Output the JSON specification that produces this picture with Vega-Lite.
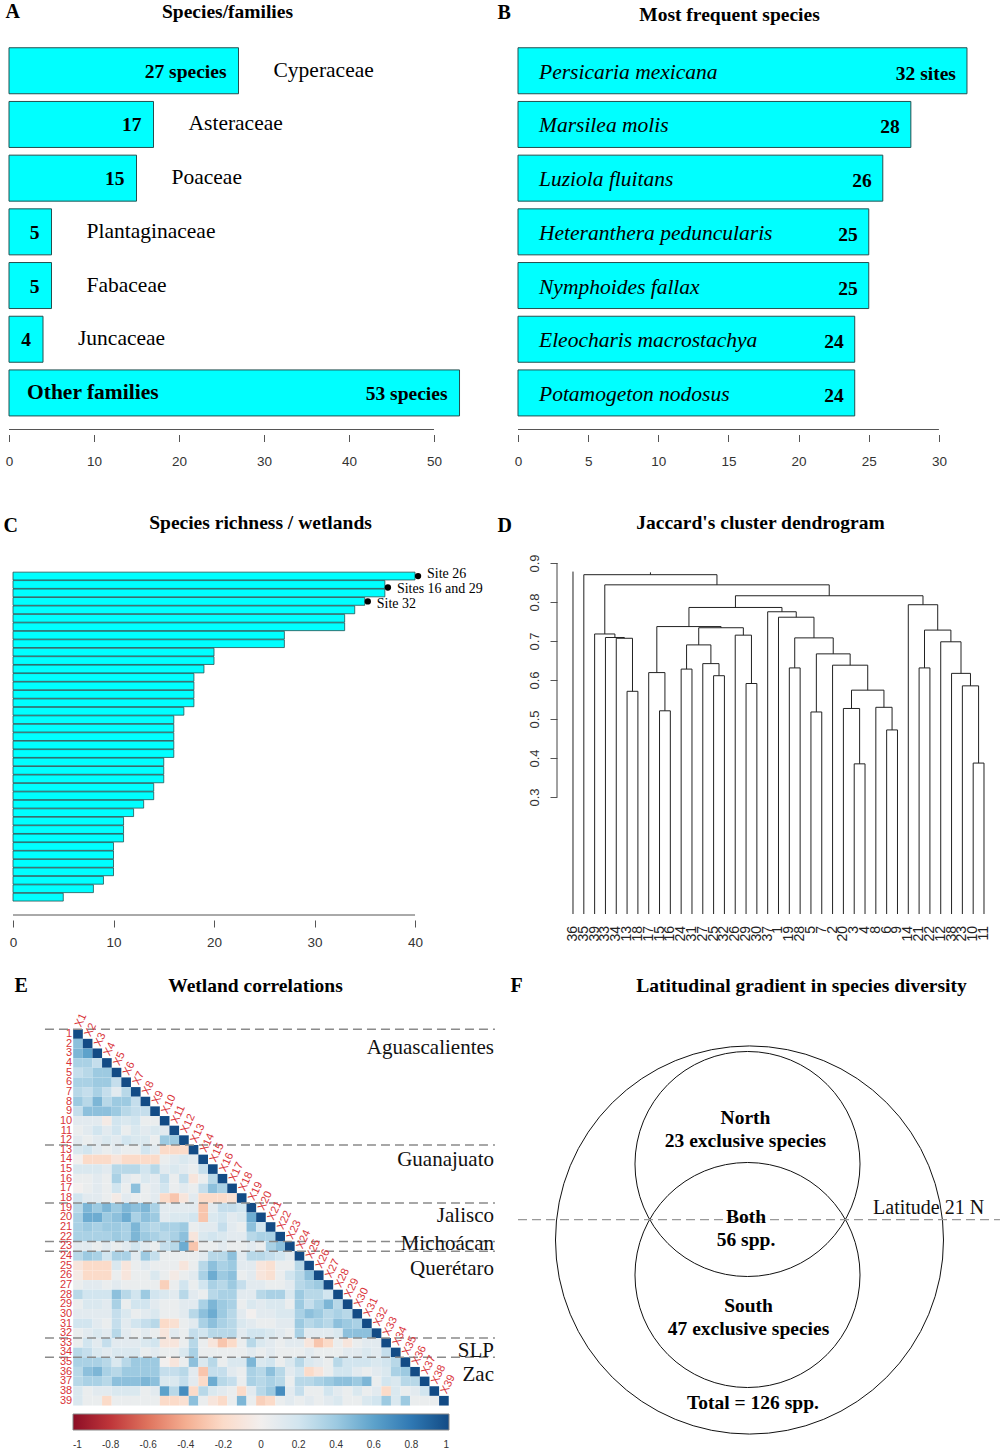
{
"$schema":"https://vega.github.io/schema/vega-lite/v6.json",
"background":"white",
"padding":{"left":3,"top":1,"right":0,"bottom":0},
"columns":2,
"spacing":{"row":100,"column":9},
"bounds":"flush",
"align":"each",
"resolve":{"scale":{"x":"independent","y":"independent","color":"independent","size":"independent"}},
"config":{"view":{"stroke":null},"font":"Liberation Serif",
 "axis":{"grid":false,"domain":false,"labelFont":"Liberation Sans","labelFontSize":13.5,"labelColor":"#333","tickColor":"#555","tickWidth":1,"titleFont":"Liberation Serif","titleFontWeight":"bold","titleColor":"#000","titleAngle":0,"titleBaseline":"middle","titleAlign":"center","labelFlush":false,"labelOverlap":false}},
"datasets":{
 "famA":[{"rank":1,"family":"Cyperaceae","n":27,"inlabel":"27 species"},{"rank":2,"family":"Asteraceae","n":17,"inlabel":"17"},{"rank":3,"family":"Poaceae","n":15,"inlabel":"15"},{"rank":4,"family":"Plantaginaceae","n":5,"inlabel":"5"},{"rank":5,"family":"Fabaceae","n":5,"inlabel":"5"},{"rank":6,"family":"Juncaceae","n":4,"inlabel":"4"},{"rank":7,"family":"Other families","n":53,"inlabel":"53 species"}],
 "famB":[{"rank":1,"species":"Persicaria mexicana","n":32,"lab":"32 sites"},{"rank":2,"species":"Marsilea molis","n":28,"lab":"28"},{"rank":3,"species":"Luziola fluitans","n":26,"lab":"26"},{"rank":4,"species":"Heteranthera peduncularis","n":25,"lab":"25"},{"rank":5,"species":"Nymphoides fallax","n":25,"lab":"25"},{"rank":6,"species":"Eleocharis macrostachya","n":24,"lab":"24"},{"rank":7,"species":"Potamogeton nodosus","n":24,"lab":"24"}],
 "rich":[{"rank":1,"richness":40},{"rank":2,"richness":37},{"rank":3,"richness":37},{"rank":4,"richness":35},{"rank":5,"richness":34},{"rank":6,"richness":33},{"rank":7,"richness":33},{"rank":8,"richness":27},{"rank":9,"richness":27},{"rank":10,"richness":20},{"rank":11,"richness":20},{"rank":12,"richness":19},{"rank":13,"richness":18},{"rank":14,"richness":18},{"rank":15,"richness":18},{"rank":16,"richness":18},{"rank":17,"richness":17},{"rank":18,"richness":16},{"rank":19,"richness":16},{"rank":20,"richness":16},{"rank":21,"richness":16},{"rank":22,"richness":16},{"rank":23,"richness":15},{"rank":24,"richness":15},{"rank":25,"richness":15},{"rank":26,"richness":14},{"rank":27,"richness":14},{"rank":28,"richness":13},{"rank":29,"richness":12},{"rank":30,"richness":11},{"rank":31,"richness":11},{"rank":32,"richness":11},{"rank":33,"richness":10},{"rank":34,"richness":10},{"rank":35,"richness":10},{"rank":36,"richness":10},{"rank":37,"richness":9},{"rank":38,"richness":8},{"rank":39,"richness":5}],
 "dots":[{"pos":1,"x":40.3,"lpos":0.72,"label":"Site 26"},{"pos":2.36,"x":37.3,"lpos":2.5,"label":"Sites 16 and 29"},{"pos":4,"x":35.3,"lpos":4.35,"label":"Site 32"}],
 "dendro":[
{"x":5,"y":0,"x2":5,"y2":0.571},{"x":6,"y":0,"x2":6,"y2":0.571},{"x":5,"y":0.571,"x2":6,"y2":0.571},
{"x":4,"y":0,"x2":4,"y2":0.707},{"x":5.5,"y":0.571,"x2":5.5,"y2":0.707},{"x":4,"y":0.707,"x2":5.5,"y2":0.707},
{"x":3,"y":0,"x2":3,"y2":0.709},{"x":4.75,"y":0.707,"x2":4.75,"y2":0.709},{"x":3,"y":0.709,"x2":4.75,"y2":0.709},
{"x":2,"y":0,"x2":2,"y2":0.718},{"x":3.875,"y":0.709,"x2":3.875,"y2":0.718},{"x":2,"y":0.718,"x2":3.875,"y2":0.718},
{"x":8,"y":0,"x2":8,"y2":0.521},{"x":9,"y":0,"x2":9,"y2":0.521},{"x":8,"y":0.521,"x2":9,"y2":0.521},
{"x":7,"y":0,"x2":7,"y2":0.619},{"x":8.5,"y":0.521,"x2":8.5,"y2":0.619},{"x":7,"y":0.619,"x2":8.5,"y2":0.619},
{"x":10,"y":0,"x2":10,"y2":0.628},{"x":11,"y":0,"x2":11,"y2":0.628},{"x":10,"y":0.628,"x2":11,"y2":0.628},
{"x":13,"y":0,"x2":13,"y2":0.611},{"x":14,"y":0,"x2":14,"y2":0.611},{"x":13,"y":0.611,"x2":14,"y2":0.611},
{"x":12,"y":0,"x2":12,"y2":0.642},{"x":13.5,"y":0.611,"x2":13.5,"y2":0.642},{"x":12,"y":0.642,"x2":13.5,"y2":0.642},
{"x":10.5,"y":0.628,"x2":10.5,"y2":0.69},{"x":12.75,"y":0.642,"x2":12.75,"y2":0.69},{"x":10.5,"y":0.69,"x2":12.75,"y2":0.69},
{"x":16,"y":0,"x2":16,"y2":0.591},{"x":17,"y":0,"x2":17,"y2":0.591},{"x":16,"y":0.591,"x2":17,"y2":0.591},
{"x":15,"y":0,"x2":15,"y2":0.715},{"x":16.5,"y":0.591,"x2":16.5,"y2":0.715},{"x":15,"y":0.715,"x2":16.5,"y2":0.715},
{"x":11.625,"y":0.69,"x2":11.625,"y2":0.734},{"x":15.75,"y":0.715,"x2":15.75,"y2":0.734},{"x":11.625,"y":0.734,"x2":15.75,"y2":0.734},
{"x":7.75,"y":0.619,"x2":7.75,"y2":0.737},{"x":13.69,"y":0.734,"x2":13.69,"y2":0.737},{"x":7.75,"y":0.737,"x2":13.69,"y2":0.737},
{"x":20,"y":0,"x2":20,"y2":0.631},{"x":21,"y":0,"x2":21,"y2":0.631},{"x":20,"y":0.631,"x2":21,"y2":0.631},
{"x":22,"y":0,"x2":22,"y2":0.518},{"x":23,"y":0,"x2":23,"y2":0.518},{"x":22,"y":0.518,"x2":23,"y2":0.518},
{"x":26,"y":0,"x2":26,"y2":0.385},{"x":27,"y":0,"x2":27,"y2":0.385},{"x":26,"y":0.385,"x2":27,"y2":0.385},
{"x":25,"y":0,"x2":25,"y2":0.527},{"x":26.5,"y":0.385,"x2":26.5,"y2":0.527},{"x":25,"y":0.527,"x2":26.5,"y2":0.527},
{"x":29,"y":0,"x2":29,"y2":0.472},{"x":30,"y":0,"x2":30,"y2":0.472},{"x":29,"y":0.472,"x2":30,"y2":0.472},
{"x":28,"y":0,"x2":28,"y2":0.53},{"x":29.5,"y":0.472,"x2":29.5,"y2":0.53},{"x":28,"y":0.53,"x2":29.5,"y2":0.53},
{"x":25.75,"y":0.527,"x2":25.75,"y2":0.574},{"x":28.75,"y":0.53,"x2":28.75,"y2":0.574},{"x":25.75,"y":0.574,"x2":28.75,"y2":0.574},
{"x":24,"y":0,"x2":24,"y2":0.638},{"x":27.25,"y":0.574,"x2":27.25,"y2":0.638},{"x":24,"y":0.638,"x2":27.25,"y2":0.638},
{"x":22.5,"y":0.518,"x2":22.5,"y2":0.667},{"x":25.625,"y":0.638,"x2":25.625,"y2":0.667},{"x":22.5,"y":0.667,"x2":25.625,"y2":0.667},
{"x":20.5,"y":0.631,"x2":20.5,"y2":0.708},{"x":24.06,"y":0.667,"x2":24.06,"y2":0.708},{"x":20.5,"y":0.708,"x2":24.06,"y2":0.708},
{"x":19,"y":0,"x2":19,"y2":0.761},{"x":22.28,"y":0.708,"x2":22.28,"y2":0.761},{"x":19,"y":0.761,"x2":22.28,"y2":0.761},
{"x":18,"y":0,"x2":18,"y2":0.775},{"x":20.64,"y":0.761,"x2":20.64,"y2":0.775},{"x":18,"y":0.775,"x2":20.64,"y2":0.775},
{"x":10.72,"y":0.737,"x2":10.72,"y2":0.786},{"x":19.32,"y":0.775,"x2":19.32,"y2":0.786},{"x":10.72,"y":0.786,"x2":19.32,"y2":0.786},
{"x":37,"y":0,"x2":37,"y2":0.387},{"x":38,"y":0,"x2":38,"y2":0.387},{"x":37,"y":0.387,"x2":38,"y2":0.387},
{"x":36,"y":0,"x2":36,"y2":0.585},{"x":37.5,"y":0.387,"x2":37.5,"y2":0.585},{"x":36,"y":0.585,"x2":37.5,"y2":0.585},
{"x":35,"y":0,"x2":35,"y2":0.617},{"x":36.75,"y":0.585,"x2":36.75,"y2":0.617},{"x":35,"y":0.617,"x2":36.75,"y2":0.617},
{"x":34,"y":0,"x2":34,"y2":0.698},{"x":35.875,"y":0.617,"x2":35.875,"y2":0.698},{"x":34,"y":0.698,"x2":35.875,"y2":0.698},
{"x":32,"y":0,"x2":32,"y2":0.631},{"x":33,"y":0,"x2":33,"y2":0.631},{"x":32,"y":0.631,"x2":33,"y2":0.631},
{"x":32.5,"y":0.631,"x2":32.5,"y2":0.728},{"x":34.94,"y":0.698,"x2":34.94,"y2":0.728},{"x":32.5,"y":0.728,"x2":34.94,"y2":0.728},
{"x":31,"y":0,"x2":31,"y2":0.793},{"x":33.72,"y":0.728,"x2":33.72,"y2":0.793},{"x":31,"y":0.793,"x2":33.72,"y2":0.793},
{"x":15.02,"y":0.786,"x2":15.02,"y2":0.816},{"x":32.36,"y":0.793,"x2":32.36,"y2":0.816},{"x":15.02,"y":0.816,"x2":32.36,"y2":0.816},
{"x":2.94,"y":0.718,"x2":2.94,"y2":0.844},{"x":23.69,"y":0.816,"x2":23.69,"y2":0.844},{"x":2.94,"y":0.844,"x2":23.69,"y2":0.844},
{"x":1,"y":0,"x2":1,"y2":0.87},{"x":13.31,"y":0.844,"x2":13.31,"y2":0.87},{"x":1,"y":0.87,"x2":13.31,"y2":0.87},
{"x":0,"y":0,"x2":0,"y2":0.878},{"x":7.16,"y":0.87,"x2":7.16,"y2":0.876}],
 "leaves":[{"i":0,"leaf":"36"},{"i":1,"leaf":"35"},{"i":2,"leaf":"39"},{"i":3,"leaf":"33"},{"i":4,"leaf":"34"},{"i":5,"leaf":"13"},{"i":6,"leaf":"18"},{"i":7,"leaf":"17"},{"i":8,"leaf":"15"},{"i":9,"leaf":"16"},{"i":10,"leaf":"24"},{"i":11,"leaf":"31"},{"i":12,"leaf":"27"},{"i":13,"leaf":"25"},{"i":14,"leaf":"32"},{"i":15,"leaf":"26"},{"i":16,"leaf":"29"},{"i":17,"leaf":"30"},{"i":18,"leaf":"37"},{"i":19,"leaf":"1"},{"i":20,"leaf":"19"},{"i":21,"leaf":"28"},{"i":22,"leaf":"5"},{"i":23,"leaf":"7"},{"i":24,"leaf":"2"},{"i":25,"leaf":"20"},{"i":26,"leaf":"3"},{"i":27,"leaf":"4"},{"i":28,"leaf":"8"},{"i":29,"leaf":"6"},{"i":30,"leaf":"9"},{"i":31,"leaf":"14"},{"i":32,"leaf":"21"},{"i":33,"leaf":"22"},{"i":34,"leaf":"12"},{"i":35,"leaf":"38"},{"i":36,"leaf":"23"},{"i":37,"leaf":"10"},{"i":38,"leaf":"11"}],
 "elab":[{"i":1,"row":"1","col":"X1"},{"i":2,"row":"2","col":"X2"},{"i":3,"row":"3","col":"X3"},{"i":4,"row":"4","col":"X4"},{"i":5,"row":"5","col":"X5"},{"i":6,"row":"6","col":"X6"},{"i":7,"row":"7","col":"X7"},{"i":8,"row":"8","col":"X8"},{"i":9,"row":"9","col":"X9"},{"i":10,"row":"10","col":"X10"},{"i":11,"row":"11","col":"X11"},{"i":12,"row":"12","col":"X12"},{"i":13,"row":"13","col":"X13"},{"i":14,"row":"14","col":"X14"},{"i":15,"row":"15","col":"X15"},{"i":16,"row":"16","col":"X16"},{"i":17,"row":"17","col":"X17"},{"i":18,"row":"18","col":"X18"},{"i":19,"row":"19","col":"X19"},{"i":20,"row":"20","col":"X20"},{"i":21,"row":"21","col":"X21"},{"i":22,"row":"22","col":"X22"},{"i":23,"row":"23","col":"X23"},{"i":24,"row":"24","col":"X24"},{"i":25,"row":"25","col":"X25"},{"i":26,"row":"26","col":"X26"},{"i":27,"row":"27","col":"X27"},{"i":28,"row":"28","col":"X28"},{"i":29,"row":"29","col":"X29"},{"i":30,"row":"30","col":"X30"},{"i":31,"row":"31","col":"X31"},{"i":32,"row":"32","col":"X32"},{"i":33,"row":"33","col":"X33"},{"i":34,"row":"34","col":"X34"},{"i":35,"row":"35","col":"X35"},{"i":36,"row":"36","col":"X36"},{"i":37,"row":"37","col":"X37"},{"i":38,"row":"38","col":"X38"},{"i":39,"row":"39","col":"X39"}],
 "states":[{"state":"Aguascalientes","b":0.5,"ly":2.45},{"state":"Guanajuato","b":12.5,"ly":14.1},{"state":"Jalisco","b":18.5,"ly":19.9},{"state":"Michoácan","b":22.5,"ly":22.75},{"state":"Querétaro","b":23.5,"ly":25.35},{"state":"SLP","b":32.5,"ly":33.8},{"state":"Zac","b":34.5,"ly":36.3}],
 "circles":[{"set":"Total","cx":0,"cy":0,"r":100},{"set":"North","cx":-1.03,"cy":39.18,"r":58},{"set":"South","cx":-1.03,"cy":-18.04,"r":58}],
 "venn":[{"lab":"North\n23 exclusive species","tx":-2.06,"ty":63.1},{"lab":"Both\n56 spp.","tx":-1.8,"ty":11.6},{"lab":"South\n47 exclusive species","tx":-0.5,"ty":-34.0},{"lab":"Total = 126 spp.","tx":1.8,"ty":-84.0}],
 "ecells":[
{"r":1,"c":1,"v":1},
{"r":2,"c":1,"v":0.45},{"r":2,"c":2,"v":1},
{"r":3,"c":1,"v":0.5},{"r":3,"c":2,"v":0.6},{"r":3,"c":3,"v":1},
{"r":4,"c":1,"v":0.35},{"r":4,"c":2,"v":0.35},{"r":4,"c":3,"v":0.25},{"r":4,"c":4,"v":1},
{"r":5,"c":1,"v":0.25},{"r":5,"c":2,"v":0.3},{"r":5,"c":3,"v":0.4},{"r":5,"c":4,"v":0.4},{"r":5,"c":5,"v":1},
{"r":6,"c":1,"v":0.35},{"r":6,"c":2,"v":0.35},{"r":6,"c":3,"v":0.4},{"r":6,"c":4,"v":0.4},{"r":6,"c":5,"v":0.25},{"r":6,"c":6,"v":1},
{"r":7,"c":1,"v":0.3},{"r":7,"c":2,"v":0.25},{"r":7,"c":3,"v":0.35},{"r":7,"c":4,"v":0.25},{"r":7,"c":5,"v":0.1},{"r":7,"c":6,"v":0.3},{"r":7,"c":7,"v":1},
{"r":8,"c":1,"v":0.4},{"r":8,"c":2,"v":0.3},{"r":8,"c":3,"v":0.5},{"r":8,"c":4,"v":0.3},{"r":8,"c":5,"v":0.4},{"r":8,"c":6,"v":0.4},{"r":8,"c":7,"v":0.25},{"r":8,"c":8,"v":1},
{"r":9,"c":1,"v":0.25},{"r":9,"c":2,"v":0.45},{"r":9,"c":3,"v":0.45},{"r":9,"c":4,"v":0.45},{"r":9,"c":5,"v":0.4},{"r":9,"c":6,"v":0.3},{"r":9,"c":7,"v":0.25},{"r":9,"c":8,"v":0.25},{"r":9,"c":9,"v":1},
{"r":10,"c":1,"v":0.1},{"r":10,"c":2,"v":0.1},{"r":10,"c":3,"v":0.1},{"r":10,"c":4,"v":-0.05},{"r":10,"c":5,"v":0.2},{"r":10,"c":6,"v":0.15},{"r":10,"c":7,"v":0.2},{"r":10,"c":8,"v":0.05},{"r":10,"c":9,"v":0.05},{"r":10,"c":10,"v":1},
{"r":11,"c":1,"v":0.05},{"r":11,"c":2,"v":0.1},{"r":11,"c":3,"v":0.2},{"r":11,"c":4,"v":0.1},{"r":11,"c":5,"v":0.2},{"r":11,"c":6,"v":0.05},{"r":11,"c":7,"v":0.15},{"r":11,"c":8,"v":0.1},{"r":11,"c":9,"v":0.15},{"r":11,"c":10,"v":0.1},{"r":11,"c":11,"v":1},
{"r":12,"c":1,"v":0.1},{"r":12,"c":2,"v":0.05},{"r":12,"c":3,"v":0.1},{"r":12,"c":4,"v":0.15},{"r":12,"c":5,"v":0.1},{"r":12,"c":6,"v":0.2},{"r":12,"c":7,"v":0.15},{"r":12,"c":8,"v":0.15},{"r":12,"c":9,"v":0.05},{"r":12,"c":10,"v":0.4},{"r":12,"c":11,"v":0.4},{"r":12,"c":12,"v":1},
{"r":13,"c":1,"v":0.15},{"r":13,"c":2,"v":0.2},{"r":13,"c":3,"v":0.1},{"r":13,"c":4,"v":0.05},{"r":13,"c":5,"v":0.1},{"r":13,"c":6,"v":0.05},{"r":13,"c":7,"v":0.05},{"r":13,"c":8,"v":0.2},{"r":13,"c":9,"v":0.1},{"r":13,"c":10,"v":-0.2},{"r":13,"c":11,"v":-0.2},{"r":13,"c":12,"v":-0.2},{"r":13,"c":13,"v":1},
{"r":14,"c":1,"v":0},{"r":14,"c":2,"v":-0.2},{"r":14,"c":3,"v":-0.2},{"r":14,"c":4,"v":-0.2},{"r":14,"c":5,"v":-0.1},{"r":14,"c":6,"v":-0.2},{"r":14,"c":7,"v":-0.2},{"r":14,"c":8,"v":-0.2},{"r":14,"c":9,"v":-0.2},{"r":14,"c":10,"v":0.05},{"r":14,"c":11,"v":0.1},{"r":14,"c":12,"v":0.15},{"r":14,"c":13,"v":0.1},{"r":14,"c":14,"v":1},
{"r":15,"c":1,"v":0.15},{"r":15,"c":2,"v":0.15},{"r":15,"c":3,"v":0.15},{"r":15,"c":4,"v":0.1},{"r":15,"c":5,"v":0.3},{"r":15,"c":6,"v":0.3},{"r":15,"c":7,"v":0.3},{"r":15,"c":8,"v":0.2},{"r":15,"c":9,"v":0.3},{"r":15,"c":10,"v":0.1},{"r":15,"c":11,"v":0.15},{"r":15,"c":12,"v":0.1},{"r":15,"c":13,"v":0.05},{"r":15,"c":14,"v":0.25},{"r":15,"c":15,"v":1},
{"r":16,"c":1,"v":0.05},{"r":16,"c":2,"v":0.05},{"r":16,"c":3,"v":0.1},{"r":16,"c":4,"v":0.05},{"r":16,"c":5,"v":0.35},{"r":16,"c":6,"v":0.1},{"r":16,"c":7,"v":0.05},{"r":16,"c":8,"v":0.15},{"r":16,"c":9,"v":0.1},{"r":16,"c":10,"v":0.25},{"r":16,"c":11,"v":0.05},{"r":16,"c":12,"v":0.25},{"r":16,"c":13,"v":-0.1},{"r":16,"c":14,"v":0.05},{"r":16,"c":15,"v":0.3},{"r":16,"c":16,"v":1},
{"r":17,"c":1,"v":0},{"r":17,"c":2,"v":0.05},{"r":17,"c":3,"v":0.1},{"r":17,"c":4,"v":0.05},{"r":17,"c":5,"v":0.2},{"r":17,"c":6,"v":0.05},{"r":17,"c":7,"v":0.45},{"r":17,"c":8,"v":0.05},{"r":17,"c":9,"v":0.1},{"r":17,"c":10,"v":0.2},{"r":17,"c":11,"v":0.05},{"r":17,"c":12,"v":0.1},{"r":17,"c":13,"v":0.05},{"r":17,"c":14,"v":0.25},{"r":17,"c":15,"v":0.45},{"r":17,"c":16,"v":0.35},{"r":17,"c":17,"v":1},
{"r":18,"c":1,"v":0.2},{"r":18,"c":2,"v":0.1},{"r":18,"c":3,"v":0.1},{"r":18,"c":4,"v":0.05},{"r":18,"c":5,"v":-0.05},{"r":18,"c":6,"v":0.1},{"r":18,"c":7,"v":0.05},{"r":18,"c":8,"v":0.05},{"r":18,"c":9,"v":0.1},{"r":18,"c":10,"v":-0.2},{"r":18,"c":11,"v":-0.3},{"r":18,"c":12,"v":-0.1},{"r":18,"c":13,"v":0.1},{"r":18,"c":14,"v":-0.2},{"r":18,"c":15,"v":-0.2},{"r":18,"c":16,"v":-0.2},{"r":18,"c":17,"v":-0.15},{"r":18,"c":18,"v":1},
{"r":19,"c":1,"v":0.3},{"r":19,"c":2,"v":0.5},{"r":19,"c":3,"v":0.4},{"r":19,"c":4,"v":0.5},{"r":19,"c":5,"v":0.4},{"r":19,"c":6,"v":0.5},{"r":19,"c":7,"v":0.45},{"r":19,"c":8,"v":0.5},{"r":19,"c":9,"v":0.35},{"r":19,"c":10,"v":0.1},{"r":19,"c":11,"v":0.1},{"r":19,"c":12,"v":0.1},{"r":19,"c":13,"v":0.1},{"r":19,"c":14,"v":-0.3},{"r":19,"c":15,"v":0.1},{"r":19,"c":16,"v":0.25},{"r":19,"c":17,"v":0.25},{"r":19,"c":18,"v":0.2},{"r":19,"c":19,"v":1},
{"r":20,"c":1,"v":0.35},{"r":20,"c":2,"v":0.55},{"r":20,"c":3,"v":0.55},{"r":20,"c":4,"v":0.4},{"r":20,"c":5,"v":0.45},{"r":20,"c":6,"v":0.55},{"r":20,"c":7,"v":0.35},{"r":20,"c":8,"v":0.45},{"r":20,"c":9,"v":0.4},{"r":20,"c":10,"v":0.1},{"r":20,"c":11,"v":0.15},{"r":20,"c":12,"v":0.15},{"r":20,"c":13,"v":0.2},{"r":20,"c":14,"v":-0.3},{"r":20,"c":15,"v":0.15},{"r":20,"c":16,"v":0.2},{"r":20,"c":17,"v":0.1},{"r":20,"c":18,"v":0.15},{"r":20,"c":19,"v":0.55},{"r":20,"c":20,"v":1},
{"r":21,"c":1,"v":0.35},{"r":21,"c":2,"v":0.4},{"r":21,"c":3,"v":0.35},{"r":21,"c":4,"v":0.4},{"r":21,"c":5,"v":0.4},{"r":21,"c":6,"v":0.35},{"r":21,"c":7,"v":0.5},{"r":21,"c":8,"v":0.35},{"r":21,"c":9,"v":0.3},{"r":21,"c":10,"v":0.35},{"r":21,"c":11,"v":0.35},{"r":21,"c":12,"v":0.4},{"r":21,"c":13,"v":0.05},{"r":21,"c":14,"v":0.1},{"r":21,"c":15,"v":0.1},{"r":21,"c":16,"v":0.25},{"r":21,"c":17,"v":0.1},{"r":21,"c":18,"v":0.05},{"r":21,"c":19,"v":0.45},{"r":21,"c":20,"v":0.2},{"r":21,"c":21,"v":1},
{"r":22,"c":1,"v":0.35},{"r":22,"c":2,"v":0.35},{"r":22,"c":3,"v":0.35},{"r":22,"c":4,"v":0.35},{"r":22,"c":5,"v":0.4},{"r":22,"c":6,"v":0.35},{"r":22,"c":7,"v":0.5},{"r":22,"c":8,"v":0.4},{"r":22,"c":9,"v":0.35},{"r":22,"c":10,"v":0.3},{"r":22,"c":11,"v":0.35},{"r":22,"c":12,"v":0.45},{"r":22,"c":13,"v":-0.1},{"r":22,"c":14,"v":0.15},{"r":22,"c":15,"v":0.2},{"r":22,"c":16,"v":0.15},{"r":22,"c":17,"v":0.1},{"r":22,"c":18,"v":0.1},{"r":22,"c":19,"v":0.3},{"r":22,"c":20,"v":0.35},{"r":22,"c":21,"v":0.35},{"r":22,"c":22,"v":1},
{"r":23,"c":1,"v":0.1},{"r":23,"c":2,"v":0.1},{"r":23,"c":3,"v":0.05},{"r":23,"c":4,"v":0.1},{"r":23,"c":5,"v":0.05},{"r":23,"c":6,"v":0.1},{"r":23,"c":7,"v":0.2},{"r":23,"c":8,"v":0.1},{"r":23,"c":9,"v":0.05},{"r":23,"c":10,"v":0.25},{"r":23,"c":11,"v":0.3},{"r":23,"c":12,"v":0.55},{"r":23,"c":13,"v":-0.3},{"r":23,"c":14,"v":0.05},{"r":23,"c":15,"v":0.05},{"r":23,"c":16,"v":0.1},{"r":23,"c":17,"v":0.05},{"r":23,"c":18,"v":0.05},{"r":23,"c":19,"v":0.1},{"r":23,"c":20,"v":0.05},{"r":23,"c":21,"v":0.35},{"r":23,"c":22,"v":0.45},{"r":23,"c":23,"v":1},
{"r":24,"c":1,"v":0.3},{"r":24,"c":2,"v":0.4},{"r":24,"c":3,"v":0.35},{"r":24,"c":4,"v":0.2},{"r":24,"c":5,"v":0.35},{"r":24,"c":6,"v":0.35},{"r":24,"c":7,"v":0.1},{"r":24,"c":8,"v":0.4},{"r":24,"c":9,"v":0.25},{"r":24,"c":10,"v":0.05},{"r":24,"c":11,"v":0.05},{"r":24,"c":12,"v":0.05},{"r":24,"c":13,"v":0.05},{"r":24,"c":14,"v":0.1},{"r":24,"c":15,"v":0.3},{"r":24,"c":16,"v":0.3},{"r":24,"c":17,"v":0.45},{"r":24,"c":18,"v":0.1},{"r":24,"c":19,"v":0.3},{"r":24,"c":20,"v":0.3},{"r":24,"c":21,"v":0.25},{"r":24,"c":22,"v":0.2},{"r":24,"c":23,"v":0.1},{"r":24,"c":24,"v":1},
{"r":25,"c":1,"v":-0.1},{"r":25,"c":2,"v":-0.2},{"r":25,"c":3,"v":-0.2},{"r":25,"c":4,"v":-0.2},{"r":25,"c":5,"v":0.15},{"r":25,"c":6,"v":-0.1},{"r":25,"c":7,"v":0.05},{"r":25,"c":8,"v":0.1},{"r":25,"c":9,"v":0.05},{"r":25,"c":10,"v":0.05},{"r":25,"c":11,"v":0.05},{"r":25,"c":12,"v":-0.1},{"r":25,"c":13,"v":0.05},{"r":25,"c":14,"v":0.3},{"r":25,"c":15,"v":0.45},{"r":25,"c":16,"v":0.35},{"r":25,"c":17,"v":0.4},{"r":25,"c":18,"v":0.1},{"r":25,"c":19,"v":0.1},{"r":25,"c":20,"v":-0.1},{"r":25,"c":21,"v":-0.15},{"r":25,"c":22,"v":0.05},{"r":25,"c":23,"v":0.05},{"r":25,"c":24,"v":0.3},{"r":25,"c":25,"v":1},
{"r":26,"c":1,"v":-0.05},{"r":26,"c":2,"v":-0.2},{"r":26,"c":3,"v":-0.2},{"r":26,"c":4,"v":-0.2},{"r":26,"c":5,"v":0.05},{"r":26,"c":6,"v":-0.1},{"r":26,"c":7,"v":0.05},{"r":26,"c":8,"v":0.05},{"r":26,"c":9,"v":0.15},{"r":26,"c":10,"v":0.05},{"r":26,"c":11,"v":-0.05},{"r":26,"c":12,"v":0.05},{"r":26,"c":13,"v":0.1},{"r":26,"c":14,"v":0.35},{"r":26,"c":15,"v":0.55},{"r":26,"c":16,"v":0.4},{"r":26,"c":17,"v":0.45},{"r":26,"c":18,"v":0.05},{"r":26,"c":19,"v":0.1},{"r":26,"c":20,"v":-0.1},{"r":26,"c":21,"v":-0.15},{"r":26,"c":22,"v":0.05},{"r":26,"c":23,"v":0.2},{"r":26,"c":24,"v":0.3},{"r":26,"c":25,"v":0.45},{"r":26,"c":26,"v":1},
{"r":27,"c":1,"v":0.05},{"r":27,"c":2,"v":0.1},{"r":27,"c":3,"v":0.1},{"r":27,"c":4,"v":0.05},{"r":27,"c":5,"v":0.1},{"r":27,"c":6,"v":0.05},{"r":27,"c":7,"v":0.05},{"r":27,"c":8,"v":0.05},{"r":27,"c":9,"v":0.05},{"r":27,"c":10,"v":-0.25},{"r":27,"c":11,"v":0.05},{"r":27,"c":12,"v":0.2},{"r":27,"c":13,"v":0.05},{"r":27,"c":14,"v":0.2},{"r":27,"c":15,"v":0.35},{"r":27,"c":16,"v":0.3},{"r":27,"c":17,"v":0.4},{"r":27,"c":18,"v":0.25},{"r":27,"c":19,"v":0.1},{"r":27,"c":20,"v":0.1},{"r":27,"c":21,"v":0.05},{"r":27,"c":22,"v":0.05},{"r":27,"c":23,"v":0.1},{"r":27,"c":24,"v":0.3},{"r":27,"c":25,"v":0.35},{"r":27,"c":26,"v":0.4},{"r":27,"c":27,"v":1},
{"r":28,"c":1,"v":0.3},{"r":28,"c":2,"v":0.2},{"r":28,"c":3,"v":0.2},{"r":28,"c":4,"v":0.2},{"r":28,"c":5,"v":0.45},{"r":28,"c":6,"v":0.3},{"r":28,"c":7,"v":0.2},{"r":28,"c":8,"v":0.4},{"r":28,"c":9,"v":0.2},{"r":28,"c":10,"v":0.15},{"r":28,"c":11,"v":0.1},{"r":28,"c":12,"v":0.3},{"r":28,"c":13,"v":0.1},{"r":28,"c":14,"v":0.05},{"r":28,"c":15,"v":0.3},{"r":28,"c":16,"v":0.35},{"r":28,"c":17,"v":0.35},{"r":28,"c":18,"v":0.1},{"r":28,"c":19,"v":0.1},{"r":28,"c":20,"v":0.3},{"r":28,"c":21,"v":0.35},{"r":28,"c":22,"v":0.35},{"r":28,"c":23,"v":0.15},{"r":28,"c":24,"v":0.4},{"r":28,"c":25,"v":0.3},{"r":28,"c":26,"v":0.3},{"r":28,"c":27,"v":0.2},{"r":28,"c":28,"v":1},
{"r":29,"c":1,"v":0.05},{"r":29,"c":2,"v":0.15},{"r":29,"c":3,"v":0.15},{"r":29,"c":4,"v":0.1},{"r":29,"c":5,"v":0.35},{"r":29,"c":6,"v":0.05},{"r":29,"c":7,"v":0.2},{"r":29,"c":8,"v":0.2},{"r":29,"c":9,"v":0.1},{"r":29,"c":10,"v":0.05},{"r":29,"c":11,"v":0.05},{"r":29,"c":12,"v":0.1},{"r":29,"c":13,"v":0.1},{"r":29,"c":14,"v":0.35},{"r":29,"c":15,"v":0.5},{"r":29,"c":16,"v":0.4},{"r":29,"c":17,"v":0.35},{"r":29,"c":18,"v":0.05},{"r":29,"c":19,"v":0.15},{"r":29,"c":20,"v":0.1},{"r":29,"c":21,"v":0.15},{"r":29,"c":22,"v":0.15},{"r":29,"c":23,"v":0.05},{"r":29,"c":24,"v":0.4},{"r":29,"c":25,"v":0.25},{"r":29,"c":26,"v":0.35},{"r":29,"c":27,"v":0.5},{"r":29,"c":28,"v":0.3},{"r":29,"c":29,"v":1},
{"r":30,"c":1,"v":0.1},{"r":30,"c":2,"v":0.1},{"r":30,"c":3,"v":0.1},{"r":30,"c":4,"v":0.1},{"r":30,"c":5,"v":0.25},{"r":30,"c":6,"v":0.15},{"r":30,"c":7,"v":0.05},{"r":30,"c":8,"v":0.1},{"r":30,"c":9,"v":0.15},{"r":30,"c":10,"v":0.05},{"r":30,"c":11,"v":0.05},{"r":30,"c":12,"v":0.1},{"r":30,"c":13,"v":0.3},{"r":30,"c":14,"v":0.45},{"r":30,"c":15,"v":0.55},{"r":30,"c":16,"v":0.4},{"r":30,"c":17,"v":0.3},{"r":30,"c":18,"v":0.1},{"r":30,"c":19,"v":0},{"r":30,"c":20,"v":0.1},{"r":30,"c":21,"v":0.1},{"r":30,"c":22,"v":0.15},{"r":30,"c":23,"v":0.15},{"r":30,"c":24,"v":0.35},{"r":30,"c":25,"v":0.45},{"r":30,"c":26,"v":0.4},{"r":30,"c":27,"v":0.3},{"r":30,"c":28,"v":0.35},{"r":30,"c":29,"v":0.3},{"r":30,"c":30,"v":1},
{"r":31,"c":1,"v":0.2},{"r":31,"c":2,"v":0.2},{"r":31,"c":3,"v":0.1},{"r":31,"c":4,"v":0.05},{"r":31,"c":5,"v":0.25},{"r":31,"c":6,"v":0.1},{"r":31,"c":7,"v":0.2},{"r":31,"c":8,"v":0.25},{"r":31,"c":9,"v":0.3},{"r":31,"c":10,"v":-0.2},{"r":31,"c":11,"v":-0.15},{"r":31,"c":12,"v":0.05},{"r":31,"c":13,"v":0.1},{"r":31,"c":14,"v":0.35},{"r":31,"c":15,"v":0.45},{"r":31,"c":16,"v":0.35},{"r":31,"c":17,"v":0.3},{"r":31,"c":18,"v":0.15},{"r":31,"c":19,"v":0.1},{"r":31,"c":20,"v":0.05},{"r":31,"c":21,"v":0.05},{"r":31,"c":22,"v":0.1},{"r":31,"c":23,"v":0.1},{"r":31,"c":24,"v":0.4},{"r":31,"c":25,"v":0.3},{"r":31,"c":26,"v":0.35},{"r":31,"c":27,"v":0.3},{"r":31,"c":28,"v":0.45},{"r":31,"c":29,"v":0.4},{"r":31,"c":30,"v":0.35},{"r":31,"c":31,"v":1},
{"r":32,"c":1,"v":0.05},{"r":32,"c":2,"v":0.1},{"r":32,"c":3,"v":0.15},{"r":32,"c":4,"v":0.1},{"r":32,"c":5,"v":0.3},{"r":32,"c":6,"v":0.1},{"r":32,"c":7,"v":0.05},{"r":32,"c":8,"v":0.1},{"r":32,"c":9,"v":0.05},{"r":32,"c":10,"v":-0.1},{"r":32,"c":11,"v":0.1},{"r":32,"c":12,"v":0.05},{"r":32,"c":13,"v":0.25},{"r":32,"c":14,"v":0.2},{"r":32,"c":15,"v":0.3},{"r":32,"c":16,"v":0.3},{"r":32,"c":17,"v":0.3},{"r":32,"c":18,"v":0.1},{"r":32,"c":19,"v":0.2},{"r":32,"c":20,"v":0.2},{"r":32,"c":21,"v":0.15},{"r":32,"c":22,"v":0.1},{"r":32,"c":23,"v":0.05},{"r":32,"c":24,"v":0.35},{"r":32,"c":25,"v":0.1},{"r":32,"c":26,"v":0.1},{"r":32,"c":27,"v":0.1},{"r":32,"c":28,"v":0.15},{"r":32,"c":29,"v":0.45},{"r":32,"c":30,"v":0.45},{"r":32,"c":31,"v":0.45},{"r":32,"c":32,"v":1},
{"r":33,"c":1,"v":0.05},{"r":33,"c":2,"v":0.2},{"r":33,"c":3,"v":0.1},{"r":33,"c":4,"v":0.25},{"r":33,"c":5,"v":0.1},{"r":33,"c":6,"v":0.1},{"r":33,"c":7,"v":0.1},{"r":33,"c":8,"v":0.15},{"r":33,"c":9,"v":0.2},{"r":33,"c":10,"v":-0.1},{"r":33,"c":11,"v":-0.1},{"r":33,"c":12,"v":0.05},{"r":33,"c":13,"v":0.3},{"r":33,"c":14,"v":0.05},{"r":33,"c":15,"v":-0.1},{"r":33,"c":16,"v":-0.3},{"r":33,"c":17,"v":-0.2},{"r":33,"c":18,"v":0.05},{"r":33,"c":19,"v":0.3},{"r":33,"c":20,"v":0.15},{"r":33,"c":21,"v":0.1},{"r":33,"c":22,"v":0.05},{"r":33,"c":23,"v":0.1},{"r":33,"c":24,"v":0.1},{"r":33,"c":25,"v":-0.1},{"r":33,"c":26,"v":-0.3},{"r":33,"c":27,"v":-0.2},{"r":33,"c":28,"v":0.05},{"r":33,"c":29,"v":-0.1},{"r":33,"c":30,"v":0.05},{"r":33,"c":31,"v":0.1},{"r":33,"c":32,"v":0.1},{"r":33,"c":33,"v":1},
{"r":34,"c":1,"v":0.3},{"r":34,"c":2,"v":0.25},{"r":34,"c":3,"v":0.15},{"r":34,"c":4,"v":0.1},{"r":34,"c":5,"v":0.15},{"r":34,"c":6,"v":0.15},{"r":34,"c":7,"v":0.15},{"r":34,"c":8,"v":0.05},{"r":34,"c":9,"v":0.1},{"r":34,"c":10,"v":0.05},{"r":34,"c":11,"v":0.05},{"r":34,"c":12,"v":0.15},{"r":34,"c":13,"v":0.35},{"r":34,"c":14,"v":0.05},{"r":34,"c":15,"v":0.05},{"r":34,"c":16,"v":0.05},{"r":34,"c":17,"v":0.05},{"r":34,"c":18,"v":0.05},{"r":34,"c":19,"v":0.1},{"r":34,"c":20,"v":0.05},{"r":34,"c":21,"v":0.1},{"r":34,"c":22,"v":0.05},{"r":34,"c":23,"v":0.05},{"r":34,"c":24,"v":0.05},{"r":34,"c":25,"v":0.1},{"r":34,"c":26,"v":0.05},{"r":34,"c":27,"v":0.05},{"r":34,"c":28,"v":0.05},{"r":34,"c":29,"v":0.1},{"r":34,"c":30,"v":0.1},{"r":34,"c":31,"v":0.15},{"r":34,"c":32,"v":0.1},{"r":34,"c":33,"v":0.25},{"r":34,"c":34,"v":1},
{"r":35,"c":1,"v":0.35},{"r":35,"c":2,"v":0.35},{"r":35,"c":3,"v":0.35},{"r":35,"c":4,"v":0.3},{"r":35,"c":5,"v":0.15},{"r":35,"c":6,"v":0.3},{"r":35,"c":7,"v":0.4},{"r":35,"c":8,"v":0.4},{"r":35,"c":9,"v":0.4},{"r":35,"c":10,"v":0},{"r":35,"c":11,"v":-0.1},{"r":35,"c":12,"v":0.05},{"r":35,"c":13,"v":0.45},{"r":35,"c":14,"v":0.15},{"r":35,"c":15,"v":0.3},{"r":35,"c":16,"v":0.05},{"r":35,"c":17,"v":0.15},{"r":35,"c":18,"v":0.15},{"r":35,"c":19,"v":0.5},{"r":35,"c":20,"v":0.15},{"r":35,"c":21,"v":0.2},{"r":35,"c":22,"v":0.05},{"r":35,"c":23,"v":0.15},{"r":35,"c":24,"v":0.3},{"r":35,"c":25,"v":0.15},{"r":35,"c":26,"v":0.1},{"r":35,"c":27,"v":0.05},{"r":35,"c":28,"v":0.3},{"r":35,"c":29,"v":0.2},{"r":35,"c":30,"v":0.2},{"r":35,"c":31,"v":0.2},{"r":35,"c":32,"v":0.15},{"r":35,"c":33,"v":0.2},{"r":35,"c":34,"v":0.3},{"r":35,"c":35,"v":1},
{"r":36,"c":1,"v":0.3},{"r":36,"c":2,"v":0.45},{"r":36,"c":3,"v":0.5},{"r":36,"c":4,"v":0.35},{"r":36,"c":5,"v":0.3},{"r":36,"c":6,"v":0.4},{"r":36,"c":7,"v":0.4},{"r":36,"c":8,"v":0.4},{"r":36,"c":9,"v":0.4},{"r":36,"c":10,"v":0.25},{"r":36,"c":11,"v":0.25},{"r":36,"c":12,"v":0.3},{"r":36,"c":13,"v":0.1},{"r":36,"c":14,"v":-0.3},{"r":36,"c":15,"v":0.25},{"r":36,"c":16,"v":0.25},{"r":36,"c":17,"v":0.1},{"r":36,"c":18,"v":0.05},{"r":36,"c":19,"v":0.35},{"r":36,"c":20,"v":0.3},{"r":36,"c":21,"v":0.45},{"r":36,"c":22,"v":0.3},{"r":36,"c":23,"v":0.1},{"r":36,"c":24,"v":0.2},{"r":36,"c":25,"v":-0.2},{"r":36,"c":26,"v":-0.1},{"r":36,"c":27,"v":0.05},{"r":36,"c":28,"v":0.2},{"r":36,"c":29,"v":0.2},{"r":36,"c":30,"v":0.1},{"r":36,"c":31,"v":0.05},{"r":36,"c":32,"v":0.1},{"r":36,"c":33,"v":0.15},{"r":36,"c":34,"v":0.35},{"r":36,"c":35,"v":0.4},{"r":36,"c":36,"v":1},
{"r":37,"c":1,"v":0.3},{"r":37,"c":2,"v":0.35},{"r":37,"c":3,"v":0.35},{"r":37,"c":4,"v":0.3},{"r":37,"c":5,"v":0.45},{"r":37,"c":6,"v":0.45},{"r":37,"c":7,"v":0.45},{"r":37,"c":8,"v":0.5},{"r":37,"c":9,"v":0.45},{"r":37,"c":10,"v":0.15},{"r":37,"c":11,"v":0.15},{"r":37,"c":12,"v":0.25},{"r":37,"c":13,"v":0.1},{"r":37,"c":14,"v":-0.2},{"r":37,"c":15,"v":0.55},{"r":37,"c":16,"v":0.3},{"r":37,"c":17,"v":0.25},{"r":37,"c":18,"v":0.05},{"r":37,"c":19,"v":0.35},{"r":37,"c":20,"v":0.3},{"r":37,"c":21,"v":0.35},{"r":37,"c":22,"v":0.3},{"r":37,"c":23,"v":0.05},{"r":37,"c":24,"v":0.3},{"r":37,"c":25,"v":0.3},{"r":37,"c":26,"v":0.35},{"r":37,"c":27,"v":0.4},{"r":37,"c":28,"v":0.45},{"r":37,"c":29,"v":0.45},{"r":37,"c":30,"v":0.4},{"r":37,"c":31,"v":0.5},{"r":37,"c":32,"v":0.05},{"r":37,"c":33,"v":0.2},{"r":37,"c":34,"v":0.15},{"r":37,"c":35,"v":0.3},{"r":37,"c":36,"v":0.3},{"r":37,"c":37,"v":1},
{"r":38,"c":1,"v":0.15},{"r":38,"c":2,"v":0.05},{"r":38,"c":3,"v":0.1},{"r":38,"c":4,"v":0.1},{"r":38,"c":5,"v":0.15},{"r":38,"c":6,"v":0.15},{"r":38,"c":7,"v":0.15},{"r":38,"c":8,"v":0.05},{"r":38,"c":9,"v":0.1},{"r":38,"c":10,"v":0.6},{"r":38,"c":11,"v":0.3},{"r":38,"c":12,"v":0.7},{"r":38,"c":13,"v":-0.2},{"r":38,"c":14,"v":0.3},{"r":38,"c":15,"v":0.15},{"r":38,"c":16,"v":0.1},{"r":38,"c":17,"v":0.05},{"r":38,"c":18,"v":-0.2},{"r":38,"c":19,"v":0.1},{"r":38,"c":20,"v":0.3},{"r":38,"c":21,"v":0.4},{"r":38,"c":22,"v":0.7},{"r":38,"c":23,"v":0.1},{"r":38,"c":24,"v":0.25},{"r":38,"c":25,"v":0.05},{"r":38,"c":26,"v":0.05},{"r":38,"c":27,"v":0.2},{"r":38,"c":28,"v":0.1},{"r":38,"c":29,"v":0.05},{"r":38,"c":30,"v":0.15},{"r":38,"c":31,"v":0.05},{"r":38,"c":32,"v":0.1},{"r":38,"c":33,"v":-0.2},{"r":38,"c":34,"v":0.15},{"r":38,"c":35,"v":0.05},{"r":38,"c":36,"v":0.1},{"r":38,"c":37,"v":0.2},{"r":38,"c":38,"v":1},
{"r":39,"c":1,"v":0.15},{"r":39,"c":2,"v":0.05},{"r":39,"c":3,"v":0.05},{"r":39,"c":4,"v":-0.2},{"r":39,"c":5,"v":0.05},{"r":39,"c":6,"v":0.05},{"r":39,"c":7,"v":0.05},{"r":39,"c":8,"v":0.05},{"r":39,"c":9,"v":0.05},{"r":39,"c":10,"v":-0.2},{"r":39,"c":11,"v":-0.2},{"r":39,"c":12,"v":-0.15},{"r":39,"c":13,"v":0.45},{"r":39,"c":14,"v":0.05},{"r":39,"c":15,"v":-0.1},{"r":39,"c":16,"v":-0.2},{"r":39,"c":17,"v":0.05},{"r":39,"c":18,"v":0.5},{"r":39,"c":19,"v":0.05},{"r":39,"c":20,"v":-0.25},{"r":39,"c":21,"v":-0.2},{"r":39,"c":22,"v":0.05},{"r":39,"c":23,"v":0.1},{"r":39,"c":24,"v":0.05},{"r":39,"c":25,"v":0.1},{"r":39,"c":26,"v":0.05},{"r":39,"c":27,"v":0.1},{"r":39,"c":28,"v":0.15},{"r":39,"c":29,"v":0.05},{"r":39,"c":30,"v":0.05},{"r":39,"c":31,"v":0.15},{"r":39,"c":32,"v":0.2},{"r":39,"c":33,"v":0.4},{"r":39,"c":34,"v":0.15},{"r":39,"c":35,"v":0.4},{"r":39,"c":36,"v":0.05},{"r":39,"c":37,"v":0.05},{"r":39,"c":38,"v":0.05},{"r":39,"c":39,"v":1}
 ]
},
"concat":[
 {
  "width":500,"height":396.5,
  "layer":[
   {"data":{"name":"famA"},"mark":{"type":"bar","orient":"horizontal","size":46,"fill":"#00FFFF","stroke":"#245050","strokeWidth":1},
    "encoding":{
     "x":{"field":"n","type":"quantitative","scale":{"domain":[0,58.82],"nice":false,"zero":true},"axis":{"values":[0,10,20,30,40,50],"tickSize":7,"labelPadding":13,"title":"Species/families","titleX":218,"titleY":-423,"titleFontSize":19.5}},
     "y":{"field":"rank","type":"quantitative","scale":{"domain":[0.483,7.681],"reverse":true,"nice":false,"zero":false},"axis":{"labels":false,"ticks":false,"title":"A","titleX":-4,"titleY":-26.5,"titleAlign":"left","titleFontSize":20}}}},
   {"data":{"name":"famA"},"mark":{"type":"text","align":"right","baseline":"middle","dx":-12,"dy":1,"font":"Liberation Serif","fontWeight":"bold","fontSize":19.5,"color":"#000"},
    "encoding":{"x":{"field":"n","type":"quantitative"},"y":{"field":"rank","type":"quantitative"},"text":{"field":"inlabel"}}},
   {"data":{"name":"famA"},"transform":[{"filter":"datum.rank < 7"}],"mark":{"type":"text","align":"left","baseline":"middle","dx":35,"font":"Liberation Serif","fontSize":21.5,"color":"#000"},
    "encoding":{"x":{"field":"n","type":"quantitative"},"y":{"field":"rank","type":"quantitative"},"text":{"field":"family"}}},
   {"data":{"name":"famA"},"transform":[{"filter":"datum.rank == 7"}],"mark":{"type":"text","align":"left","baseline":"middle","dx":18,"font":"Liberation Serif","fontWeight":"bold","fontSize":21.5,"color":"#000"},
    "encoding":{"x":{"datum":0,"type":"quantitative"},"y":{"field":"rank","type":"quantitative"},"text":{"field":"family"}}},
   {"data":{"values":[{"a":1}]},"mark":{"type":"rule","color":"#555","strokeWidth":1},
    "encoding":{"x":{"datum":0,"type":"quantitative"},"x2":{"datum":50},"y":{"datum":7.681,"type":"quantitative"}}}
  ]
 },
 {
  "width":463,"height":396.5,
  "layer":[
   {"data":{"name":"famB"},"mark":{"type":"bar","orient":"horizontal","size":46,"fill":"#00FFFF","stroke":"#245050","strokeWidth":1},
    "encoding":{
     "x":{"field":"n","type":"quantitative","scale":{"domain":[0,33],"nice":false,"zero":true},"axis":{"values":[0,5,10,15,20,25,30],"tickSize":7,"labelPadding":13,"title":"Most frequent species","titleX":211,"titleY":-420,"titleFontSize":19.5}},
     "y":{"field":"rank","type":"quantitative","scale":{"domain":[0.483,7.681],"reverse":true,"nice":false,"zero":false},"axis":{"labels":false,"ticks":false,"title":"B","titleX":-21,"titleY":-25.5,"titleAlign":"left","titleFontSize":20}}}},
   {"data":{"name":"famB"},"mark":{"type":"text","align":"right","baseline":"middle","dx":-11,"dy":3,"font":"Liberation Serif","fontWeight":"bold","fontSize":19.5,"color":"#000"},
    "encoding":{"x":{"field":"n","type":"quantitative"},"y":{"field":"rank","type":"quantitative"},"text":{"field":"lab"}}},
   {"data":{"name":"famB"},"mark":{"type":"text","align":"left","baseline":"middle","dx":21,"dy":2,"font":"Liberation Serif","fontStyle":"italic","fontSize":21.5,"color":"#000"},
    "encoding":{"x":{"datum":0,"type":"quantitative"},"y":{"field":"rank","type":"quantitative"},"text":{"field":"species"}}},
   {"data":{"values":[{"a":1}]},"mark":{"type":"rule","color":"#555","strokeWidth":1},
    "encoding":{"x":{"datum":0,"type":"quantitative"},"x2":{"datum":30},"y":{"datum":7.681,"type":"quantitative"}}}
  ]
 },
 {
  "width":500,"height":385,
  "layer":[
   {"data":{"name":"rich"},"mark":{"type":"bar","orient":"horizontal","size":7.8,"fill":"#00FFFF","stroke":"#245050","strokeWidth":0.8},
    "encoding":{
     "x":{"field":"richness","type":"quantitative","scale":{"domain":[-0.398,49.35],"nice":false,"zero":false},"axis":{"values":[0,10,20,30,40],"tickSize":7,"labelPadding":8,"title":"Species richness / wetlands","titleX":251,"titleY":-398,"titleFontSize":19.5}},
     "y":{"field":"rank","type":"quantitative","scale":{"domain":[-3.265,41.11],"reverse":true,"nice":false,"zero":false},"axis":{"labels":false,"ticks":false,"title":"C","titleX":-6,"titleY":-10,"titleAlign":"left","titleFontSize":20}}}},
   {"data":{"name":"dots"},"mark":{"type":"point","filled":true,"color":"#000","size":40,"opacity":1},
    "encoding":{"x":{"field":"x","type":"quantitative"},"y":{"field":"pos","type":"quantitative"}}},
   {"data":{"name":"dots"},"mark":{"type":"text","align":"left","baseline":"middle","dx":9,"font":"Liberation Serif","fontSize":14,"color":"#000"},
    "encoding":{"x":{"field":"x","type":"quantitative"},"y":{"field":"lpos","type":"quantitative"},"text":{"field":"label"}}},
   {"data":{"values":[{"a":1}]},"mark":{"type":"rule","color":"#555","strokeWidth":1},
    "encoding":{"x":{"datum":0,"type":"quantitative"},"x2":{"datum":40},"y":{"datum":41.11,"type":"quantitative"}}}
  ]
 },
 {
  "width":474,"height":385,
  "layer":[
   {"data":{"name":"dendro"},"mark":{"type":"rule","color":"#222","strokeWidth":1},
    "encoding":{
     "x":{"field":"x","type":"quantitative","scale":{"domain":[-5.085,38.74],"nice":false,"zero":false},"axis":{"labels":false,"ticks":false,"title":"Jaccard's cluster dendrogram","titleX":242,"titleY":-398,"titleFontSize":19.5}},
     "x2":{"field":"x2"},
     "y":{"field":"y","type":"quantitative","scale":{"domain":[-0.01538,0.9718],"nice":false,"zero":false},"axis":{"values":[0.3,0.4,0.5,0.6,0.7,0.8,0.9],"offset":-39,"tickSize":7,"labelAngle":270,"labelAlign":"center","labelBaseline":"bottom","labelPadding":9,"labelFontSize":13,"title":"D","titleX":-60,"titleY":-10,"titleAlign":"left","titleFontSize":20}},
     "y2":{"field":"y2"}}},
   {"data":{"name":"leaves"},"mark":{"type":"text","angle":270,"align":"right","baseline":"middle","dx":-12,"font":"Liberation Sans","fontSize":14,"color":"#222"},
    "encoding":{"x":{"field":"i","type":"quantitative"},"y":{"datum":0,"type":"quantitative"},"text":{"field":"leaf"}}},
   {"data":{"values":[{"a":1}]},"mark":{"type":"rule","color":"#444","strokeWidth":1},
    "encoding":{"x":{"datum":-1.479,"type":"quantitative"},"y":{"datum":0.3,"type":"quantitative"},"y2":{"datum":0.9}}}
  ]
 },
 {
  "width":500,"height":387,
  "layer":[
   {"data":{"name":"ecells"},"mark":{"type":"square","size":93,"filled":true,"opacity":1},
    "encoding":{
     "x":{"field":"c","type":"quantitative","scale":{"domain":[-6.165,45.76],"nice":false,"zero":false},"axis":{"labels":false,"ticks":false,"title":"Wetland correlations","titleX":246,"titleY":-422,"titleFontSize":19.5}},
     "y":{"field":"r","type":"quantitative","scale":{"domain":[-0.4508,39.65],"reverse":true,"nice":false,"zero":false},"axis":{"labels":false,"ticks":false,"title":"E","titleX":5,"titleY":-35,"titleAlign":"left","titleFontSize":20}},
     "color":{"field":"v","type":"quantitative","scale":{"scheme":"redblue","domain":[-1,1]},
      "legend":{"orient":"none","legendX":64,"legendY":394,"direction":"horizontal","gradientLength":376,"gradientThickness":16,"title":null,"values":[-1,-0.8,-0.6,-0.4,-0.2,0,0.2,0.4,0.6,0.8,1],"labelExpr":"'' + datum.value","labelFont":"Liberation Sans","labelFontSize":10,"labelColor":"#333","labelOffset":10,"labelAlign":"center","labelOverlap":false,"gradientStrokeColor":"#888","gradientStrokeWidth":1}}}},
   {"data":{"name":"states"},"mark":{"type":"rule","color":"#8a8a8a","strokeWidth":1.5,"strokeDash":[9,5]},
    "encoding":{"x":{"datum":-2.43,"type":"quantitative"},"x2":{"datum":44.3},"y":{"field":"b","type":"quantitative"}}},
   {"data":{"name":"states"},"mark":{"type":"text","align":"right","baseline":"middle","font":"Liberation Serif","fontSize":21,"color":"#111"},
    "encoding":{"x":{"datum":44.2,"type":"quantitative"},"y":{"field":"ly","type":"quantitative"},"text":{"field":"state"}}},
   {"data":{"name":"elab"},"mark":{"type":"text","align":"right","baseline":"middle","font":"Liberation Sans","fontSize":11,"color":"#d9343a"},
    "encoding":{"x":{"datum":0.4,"type":"quantitative"},"y":{"field":"i","type":"quantitative"},"text":{"field":"row"}}},
   {"data":{"name":"elab"},"mark":{"type":"text","align":"left","baseline":"middle","angle":295,"dx":7,"dy":-3,"font":"Liberation Sans","fontSize":11,"color":"#d9343a"},
    "encoding":{"x":{"field":"i","type":"quantitative"},"y":{"field":"i","type":"quantitative"},"text":{"field":"col"}}}
  ]
 },
 {
  "width":472,"height":387,
  "layer":[
   {"data":{"name":"circles"},"mark":{"type":"point","shape":"circle","filled":false,"stroke":"#111","strokeWidth":1,"opacity":1},
    "encoding":{
     "x":{"field":"cx","type":"quantitative","scale":{"domain":[-119.33,123.97],"nice":false,"zero":false},"axis":{"labels":false,"ticks":false,"title":"Latitudinal gradient in species diversity","titleX":283,"titleY":-422,"titleFontSize":19.5}},
     "y":{"field":"cy","type":"quantitative","scale":{"domain":[-86.08,113.4],"nice":false,"zero":false},"axis":{"labels":false,"ticks":false,"title":"F","titleX":-8,"titleY":-35,"titleAlign":"left","titleFontSize":20}},
     "size":{"field":"r","type":"quantitative","scale":{"type":"pow","exponent":2,"domain":[0,100],"range":[0,150544]},"legend":null}}},
   {"data":{"values":[{"a":1}]},"mark":{"type":"rule","color":"#999","strokeWidth":1.3,"strokeDash":[9,5]},
    "encoding":{"x":{"datum":-119.33,"type":"quantitative"},"x2":{"datum":129.1},"y":{"datum":10.46,"type":"quantitative"}}},
   {"data":{"name":"venn"},"mark":{"type":"text","align":"center","baseline":"middle","lineBreak":"\n","lineHeight":23,"font":"Liberation Serif","fontWeight":"bold","fontSize":19.5,"color":"#000"},
    "encoding":{"x":{"field":"tx","type":"quantitative"},"y":{"field":"ty","type":"quantitative"},"text":{"field":"lab"}}},
   {"data":{"values":[{"lab":"Latitude 21 N","tx":63.7,"ty":16.5}]},"mark":{"type":"text","align":"left","baseline":"middle","font":"Liberation Serif","fontSize":20,"color":"#111"},
    "encoding":{"x":{"field":"tx","type":"quantitative"},"y":{"field":"ty","type":"quantitative"},"text":{"field":"lab"}}}
  ]
 }
]
}
